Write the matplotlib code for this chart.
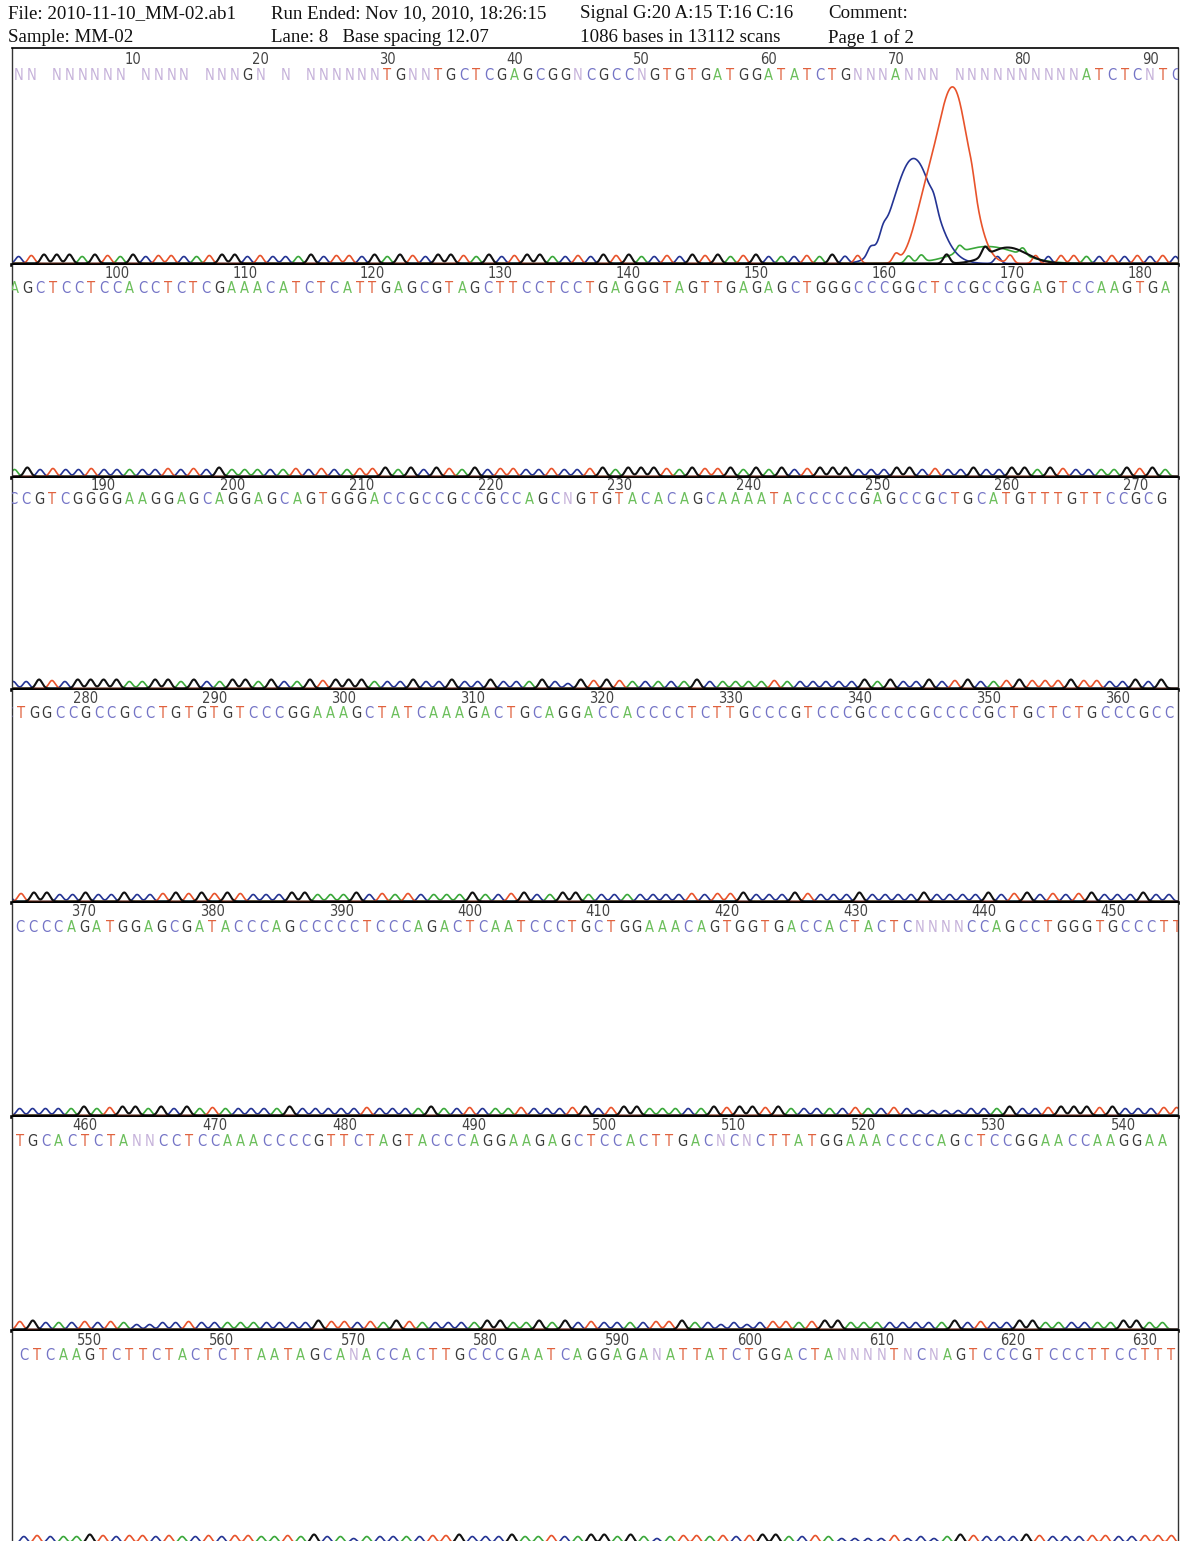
# -*- coding: utf-8 -*-
# chromatogram page: 7 rows of base calls with small trace humps
import numpy as np
import matplotlib
matplotlib.use("Agg")
import matplotlib.pyplot as plt
from matplotlib import font_manager

# ---- data ----
header_left = ["File: 2010-11-10_MM-02.ab1", "Sample: MM-02"]
header_run = ["Run Ended: Nov 10, 2010, 18:26:15", "Lane: 8   Base spacing 12.07"]
header_signal = ["Signal G:20 A:15 T:16 C:16", "1086 bases in 13112 scans"]
header_comment = ["Comment:", "Page 1 of 2"]

row_first = [1, 92, 183, 274, 365, 455, 545]
row_seq = [
    "NN NNNNNN NNNN NNN" + "G" + "N N NNNNNN"
    + "TGNNTGCTCGAGCGGNCGCCNGTGTGATGGATATCTGNNNANNN" + " NNNNNNNNNN" + "ATCTCNTC",
    "AGCTCCTCCACCTCTCGAAACATCTCATTGAGCGTAGCTTCCTCCTGAGGGTAGTTGAGAGCTGGGCCCGGCTCCGCCGGAGTCCAAGTGA",
    "CCGTCGGGGAAGGAGCAGGAGCAGTGGGACCGCCGCCGCCAGCNGTGTACACAGCAAAATACCCCCGAGCCGCTGCATGTTTGTTCCGCG",
    "CTGGCCGCCGCCTGTGTGTCCCGGAAAGCTATCAAAGACTGCAGGACCACCCCTCTTGCCCGTCCCGCCCCGCCCCGCTGCTCTGCCCGCC",
    "CCCCAGATGGAGCGATACCCAGCCCCCTCCCAGACTCAATCCCTGCTGGAAACAGTGGTGACCACTACTCNNNNCCAGCCTGGGTGCCCTT",
    "TGCACTCTANNCCTCCAAACCCCGTTCTAGTACCCAGGAAGAGCTCCACTTGACNCNCTTATGGAAACCCCAGCTCCGGAACCAAGGAA",
    "CTCAAGTCTTCTACTCTTAATAGCANACCACTTGCCCGAATCAGGAGANATTATCTGGACTANNNNTNCNAGTCCCGTCCCTTCCTTT",
]
# colours of the small humps under the mostly-N first row
row1_trace = "CTGGGAGTAGCTTCATGGCTCCAGCTTCGAGTCGGTAGCTGGACTCGTGACTCGTGATGCACTAGCTCCTAACGATGCTATCTTACTCTC" + "TC"
hump_height = {"G": 9, "A": 7, "T": 8, "C": 7, "N": 5}   # px above baseline
n_channel = "C"   # small mixed humps under the N calls of rows 2-7
# large peaks in row 1: (channel, base, height px, width in bases)
big_peaks = [("C", 71.4, 105, 1.57), ("T", 74.5, 175, 1.3), ("T", 72.2, 40, 0.9),
             ("A", 77.2, 17, 2.4), ("G", 78.8, 16, 1.5)]

# ---- layout (pixels of the 1180 x 1541 page) ----
W, H = 1180, 1541
panel_top = [48, 265, 478, 690, 903, 1117, 1331]
panel_base = [265, 478, 690, 903, 1117, 1331, 1545]
row_xlim = [(0.48, 92.2), (91.8, 183.0), (182.9, 273.3), (274.3, 364.7),
            (364.4, 455.1), (454.4, 544.2), (544.1, 632.5)]

letter_col = {"G": "#3a3a3a", "A": "#6cbf5c", "T": "#e0623e", "C": "#7474c6", "N": "#c6b2da"}
trace_col = {"G": "#111111", "A": "#3aa83a", "T": "#e8532b", "C": "#243494"}

names = {f.name for f in font_manager.fontManager.ttflist}
narrow = "Liberation Sans Narrow" if "Liberation Sans Narrow" in names else "DejaVu Sans"

fig = plt.figure(figsize=(W / 100, H / 100), dpi=100)

# header
for col_x, lines in [(8, header_left), (271, header_run), (580, header_signal), (828, header_comment)]:
    for y, t in zip([14, 38], lines):
        fig.text(col_x / W, 1 - y / H, t, family="Liberation Serif", fontsize=13.6,
                 va="center", ha="left", color="#111111")

for i in range(7):
    top, base = panel_top[i], panel_base[i]
    ph = base - top
    ax = fig.add_axes([12 / W, 1 - base / H, 1166 / W, ph / H])
    ax.set_xlim(*row_xlim[i])
    ax.set_ylim(0, ph)
    ax.set_xticks([])
    ax.set_yticks([])
    for s in ["left", "right"]:
        ax.spines[s].set_color("#333333")
        ax.spines[s].set_linewidth(1.0)
    ax.spines["bottom"].set_linewidth(2.6)
    ax.spines["bottom"].set_color("black")
    ax.spines["top"].set_visible(i == 0)
    ax.spines["top"].set_linewidth(1.2)

    seq = row_seq[i]
    first = row_first[i]
    bases = np.arange(first, first + len(seq))

    # base position numbers
    for b in bases:
        if b % 10 == 0:
            ax.text(b, 205, str(b), ha="center", va="center", fontsize=10.5,
                    family=narrow, fontstretch="condensed", color="#444444", clip_on=True)
    # base calls
    for b, ch in zip(bases, seq):
        if ch == " ":
            continue
        ax.text(b, 190, ch, ha="center", va="center", fontsize=10.5,
                family=narrow, fontstretch="condensed", color=letter_col[ch], clip_on=True)

    # traces
    calls = row1_trace if i == 0 else seq
    x = np.linspace(row_xlim[i][0], row_xlim[i][1], 3000)
    for chan in ["A", "C", "T", "G"]:
        y = np.zeros_like(x)
        for b, ch in zip(bases, calls):
            if ch == chan or (ch == "N" and chan == n_channel):
                y += hump_height[ch] * np.exp(-(x - b) ** 2 / (2 * 0.24 ** 2))
        if i == 0:
            for c, b0, h, w in big_peaks:
                if c == chan:
                    y += h * np.exp(-(x - b0) ** 2 / (2 * w ** 2))
        ax.plot(x, y + 1.5, color=trace_col[chan], lw=1.5 if chan == "G" else 1.2,
                solid_joinstyle="round")

fig.savefig("out.png", dpi=100)
